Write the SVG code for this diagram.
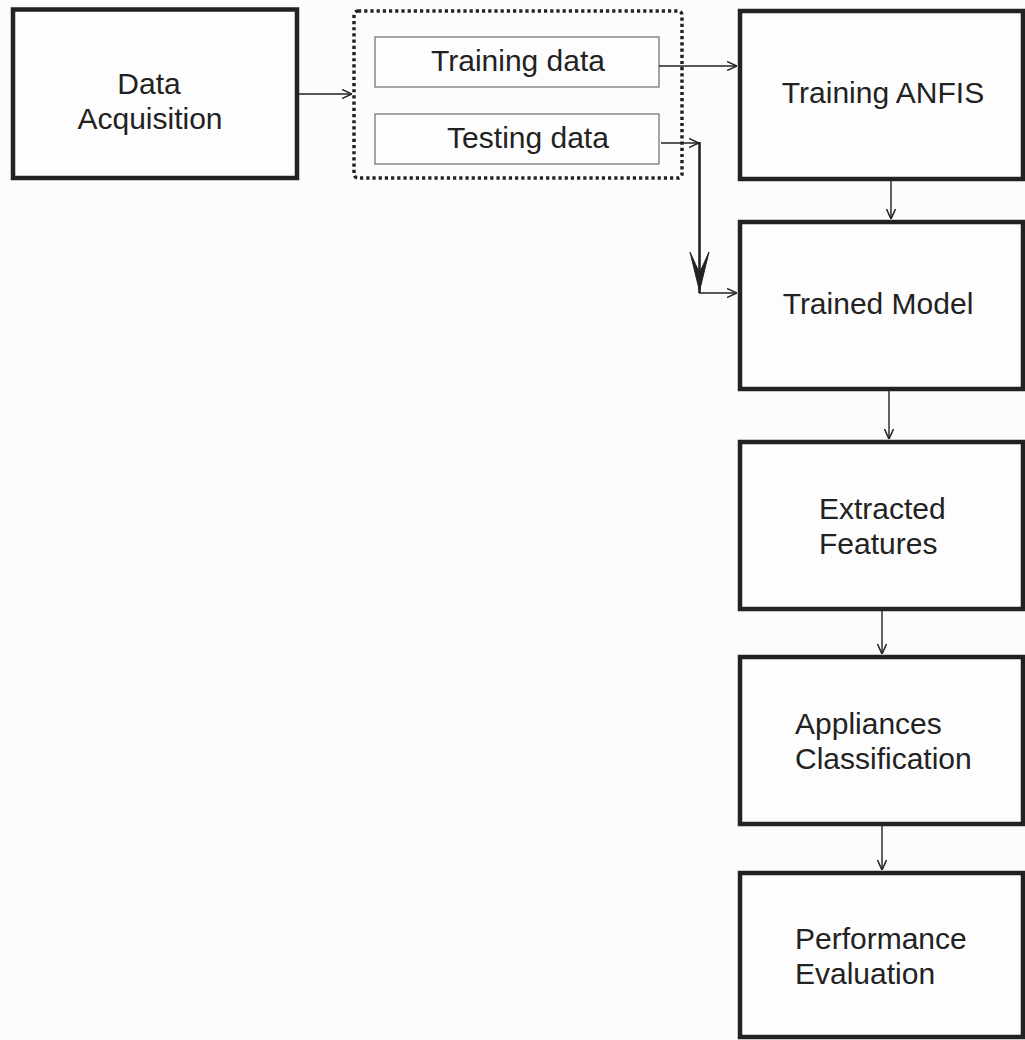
<svg xmlns="http://www.w3.org/2000/svg" width="1025" height="1040" viewBox="0 0 1025 1040">
<style>
.box{fill:#fdfdfd;stroke:#222;stroke-width:4.5}
.sub{fill:#fdfdfd;stroke:#777;stroke-width:1.3}
.t{font-family:"Liberation Sans",Arial,sans-serif;font-size:30px;fill:#222}
.c{text-anchor:middle}
.ln{fill:none;stroke:#222;stroke-width:1.4}
</style>
<defs>
<marker id="ah" viewBox="0 0 10 10" refX="10" refY="5" markerWidth="10" markerHeight="10" markerUnits="userSpaceOnUse" orient="auto">
<path d="M0,0.5 L10,5 L0,9.5" fill="none" stroke="#222" stroke-width="1.5"/>
</marker>
</defs>
<rect width="1025" height="1040" fill="#fcfcfc"/>
<g id="data-acquisition">
<rect class="box" x="13" y="9.5" width="284" height="168.5"/>
<text class="t c" x="149" y="94">Data</text>
<text class="t c" x="150" y="129">Acquisition</text>
</g>
<g id="split-group">
<rect x="354" y="11" width="328" height="167" rx="4" fill="none" stroke="#222" stroke-width="3.5" stroke-dasharray="3.2 3"/>
</g>
<g id="training-data">
<rect class="sub" x="375" y="37" width="284" height="50"/>
<text class="t c" x="518" y="71">Training data</text>
</g>
<g id="testing-data">
<rect class="sub" x="375" y="114" width="284" height="50"/>
<text class="t c" x="528" y="148">Testing data</text>
</g>
<g id="training-anfis">
<rect class="box" x="740" y="11" width="283" height="168"/>
<text class="t c" x="883" y="103">Training ANFIS</text>
</g>
<g id="trained-model">
<rect class="box" x="740" y="222" width="283" height="167"/>
<text class="t c" x="878" y="314">Trained Model</text>
</g>
<g id="extracted-features">
<rect class="box" x="740" y="442" width="283" height="167"/>
<text class="t" x="819" y="519">Extracted</text>
<text class="t" x="819" y="554">Features</text>
</g>
<g id="appliances-classification">
<rect class="box" x="740" y="657" width="283" height="167"/>
<text class="t" x="795" y="734">Appliances</text>
<text class="t" x="795" y="769">Classification</text>
</g>
<g id="performance-evaluation">
<rect class="box" x="740" y="873" width="283" height="164"/>
<text class="t" x="795" y="949">Performance</text>
<text class="t" x="795" y="984">Evaluation</text>
</g>
<g id="connectors">
<line class="ln" x1="299" y1="94" x2="352" y2="94" marker-end="url(#ah)"/>
<line class="ln" x1="659" y1="66" x2="737" y2="66" marker-end="url(#ah)"/>
<line class="ln" x1="661" y1="143" x2="699" y2="143" marker-end="url(#ah)"/>
<line x1="699.5" y1="142" x2="699.5" y2="293" stroke="#222" stroke-width="2.6"/>
<path d="M690,252 L699.5,291 L709,252 L699.5,273 Z" fill="#222" stroke="#222" stroke-width="1"/>
<line class="ln" x1="699" y1="293" x2="737" y2="293" marker-end="url(#ah)"/>
<line class="ln" x1="891" y1="181" x2="891" y2="219" marker-end="url(#ah)"/>
<line class="ln" x1="889" y1="391" x2="889" y2="439" marker-end="url(#ah)"/>
<line class="ln" x1="882" y1="611" x2="882" y2="654" marker-end="url(#ah)"/>
<line class="ln" x1="882" y1="826" x2="882" y2="870" marker-end="url(#ah)"/>
</g>
</svg>
